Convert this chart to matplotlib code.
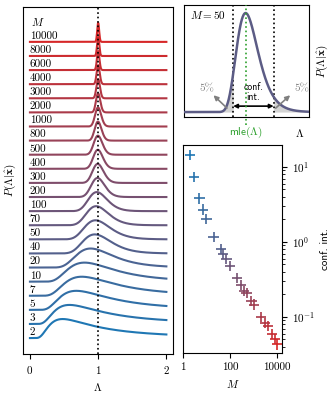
import numpy as np
import matplotlib
matplotlib.use('Agg')
import matplotlib.pyplot as plt
from matplotlib.colors import to_rgb
from matplotlib.ticker import NullLocator
import matplotlib.transforms as mtransforms

plt.rcParams['font.family'] = 'serif'
plt.rcParams['font.serif'] = ['cmr10']
plt.rcParams['mathtext.fontset'] = 'cm'
plt.rcParams['axes.formatter.use_mathtext'] = True
plt.rcParams['font.size'] = 8
plt.rcParams['axes.unicode_minus'] = False

# sample sizes, posterior mode and shape
M_vals = [2, 3, 5, 7, 10, 20, 40, 50, 70, 100, 200, 300, 400, 500, 800, 1000,
          2000, 3000, 4000, 6000, 8000, 10000]
modes = [0.48, 0.58, 0.68, 0.76, 0.80, 0.89, 0.95, 0.96, 0.97, 0.98, 0.99, 0.993,
         0.995, 0.996, 0.997, 0.998, 0.999, 1.0, 1.0, 1.0, 1.0, 1.0]
shapes = [2.5, 3.0, 3.8, 4.6, 5.8, 11, 21, 26, 36, 51, 100, 150, 200, 250, 400, 500,
          1000, 1500, 2000, 3000, 4000, 5000]
# width of the confidence interval (right lower panel)
conf_int = [14.4, 7.3, 3.8, 2.7, 2.0, 1.17, 0.80, 0.69, 0.59, 0.48, 0.33, 0.265,
            0.22, 0.207, 0.162, 0.146, 0.10, 0.083, 0.076, 0.059, 0.051, 0.043]
# inset example (M = 50)
inset_mode = 1.0
inset_shape = 23


def density(x, m, a):
    out = np.zeros_like(x)
    pos = x > 0
    xp = x[pos]
    out[pos] = np.exp(a * (-np.log(xp / m) + 1 - m / xp))
    return out


n = len(M_vals)
c0 = np.array(to_rgb('#1f77b4'))
c1 = np.array(to_rgb('#d62728'))
cols = [tuple(c0 + (c1 - c0) * i / (n - 1)) for i in range(n)]

fig = plt.figure(figsize=(3.35, 3.94), dpi=100)
ax1 = fig.add_axes([0.069, 0.1015, 0.448, 0.881])
ax2 = fig.add_axes([0.549, 0.703, 0.373, 0.284])
ax3 = fig.add_axes([0.546, 0.104, 0.296, 0.528])

# left: stacked posteriors
lam = np.linspace(0, 2, 4001)
for i in range(n):
    f = density(lam, modes[i], shapes[i])
    f = f / f.max() * 1.35 + i
    ax1.plot(lam, f, color=cols[i], lw=1.5)
    ax1.text(0.0, i + 0.08, str(M_vals[i]), ha='left', va='bottom', fontsize=8)
ax1.text(0.02, n + 0.0, r'$M$', ha='left', va='bottom', fontsize=8)
ax1.axvline(1, color='k', ls=':', lw=1.2, zorder=5)
ax1.set_xlim(-0.1, 2.1)
ax1.set_ylim(-1.13, 23.48)
ax1.set_yticks([])
ax1.set_xticks([0, 1, 2])
ax1.set_xlabel(r'$\Lambda$')
ax1.set_ylabel(r'$P(\Lambda|\hat{\mathbf{x}})$')

# inset: M = 50 with 90% interval
x2 = np.linspace(-0.2, 2.22, 3000)
f2 = density(x2, inset_mode, inset_shape)
f2 = f2 / f2.max()
cdf = np.cumsum(f2)
cdf = cdf / cdf[-1]
lo = x2[np.searchsorted(cdf, 0.05)]
hi = x2[np.searchsorted(cdf, 0.95)]
ax2.fill_between(x2, 0, f2, where=x2 <= lo, color='#d3d3d3', lw=0)
ax2.fill_between(x2, 0, f2, where=x2 >= hi, color='#d3d3d3', lw=0)
ax2.plot(x2, f2, color=cols[7], lw=1.8, zorder=3)
ax2.axvline(lo, color='k', ls=':', lw=1.2)
ax2.axvline(hi, color='k', ls=':', lw=1.2)
ax2.plot([inset_mode, inset_mode], [-0.13, 1.08], color='#2ca02c', ls=':', lw=1.2,
         clip_on=False, zorder=4)
ax2.set_xlim(-0.19, 2.22)
ax2.set_ylim(-0.05, 1.08)
ax2.set_xticks([])
ax2.set_yticks([])
ax2.text(0.05, 0.91, r'$M=50$', transform=ax2.transAxes, ha='left', va='center')
ax2.annotate('', xy=(lo, 0.06), xytext=(hi, 0.06),
             arrowprops=dict(arrowstyle='<|-|>', color='k', lw=1.2, mutation_scale=6,
                             shrinkA=0, shrinkB=0))
ax2.text((lo + hi) / 2, 0.2, 'conf.\nint.', family='cmss10', fontsize=7,
         ha='center', va='center', linespacing=1.0)
ax2.text(0.26, 0.24, '5%', color='gray', ha='center', va='center')
ax2.text(2.08, 0.24, '5%', color='gray', ha='center', va='center')
ax2.annotate('', xy=(0.38, 0.17), xytext=(0.64, 0.04),
             arrowprops=dict(arrowstyle='-|>', color='gray', lw=1.2, mutation_scale=7,
                             shrinkA=0, shrinkB=0))
ax2.annotate('', xy=(1.86, 0.17), xytext=(1.58, 0.04),
             arrowprops=dict(arrowstyle='-|>', color='gray', lw=1.2, mutation_scale=7,
                             shrinkA=0, shrinkB=0))
trans = mtransforms.blended_transform_factory(ax2.transData, ax2.transAxes)
ax2.text(inset_mode, -0.14, r'$\mathsf{mle}(\Lambda)$', color='#2ca02c', transform=trans,
         ha='center', va='center')
ax2.text(0.93, -0.14, r'$\Lambda$', transform=ax2.transAxes, ha='center', va='center')
ax2.yaxis.set_label_position('right')
ax2.set_ylabel(r'$P(\Lambda|\hat{\mathbf{x}})$')

# right lower: interval width vs M
ax3.scatter(M_vals, conf_int, marker='+', c=cols, s=55, linewidths=1.2)
ax3.set_xscale('log')
ax3.set_yscale('log')
ax3.set_xlim(1, 1.6e4)
ax3.set_ylim(0.033, 19.6)
ax3.set_xticks([1, 100, 10000])
ax3.set_xticklabels(['1', '100', '10000'])
ax3.xaxis.set_minor_locator(NullLocator())
ax3.yaxis.tick_right()
ax3.yaxis.set_label_position('right')
ax3.set_xlabel(r'$M$')
ax3.set_ylabel('conf. int.', family='cmss10')

fig.savefig('out.png', dpi=100)
